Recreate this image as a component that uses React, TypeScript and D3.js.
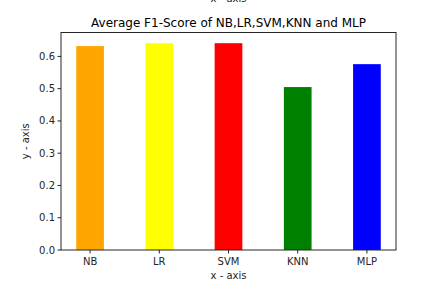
import React from 'react';
import * as d3 from 'd3';

const models = ['NB', 'LR', 'SVM', 'KNN', 'MLP'];
const f1Scores = [0.632, 0.641, 0.641, 0.505, 0.576];
const barColors = ['orange', 'yellow', 'red', 'green', 'blue'];
const yTicks = [0, 0.1, 0.2, 0.3, 0.4, 0.5, 0.6];

const W = 431;
const H = 286;
const margin = { top: 32.5, right: 35, bottom: 36, left: 61 };

const App: React.FC = () => {
  const innerW = W - margin.left - margin.right;
  const innerH = H - margin.top - margin.bottom;

  // matplotlib-like continuous x: bars of width 0.4 at integer positions
  const x = d3.scaleLinear().domain([-0.42, models.length - 1 + 0.42]).range([0, innerW]);
  const y = d3.scaleLinear().domain([0, 0.6741]).range([innerH, 0]);
  const barW = x(0.4) - x(0);

  const font = 'DejaVu Sans, sans-serif';
  const textColor = '#262626';

  return (
    <svg
      width={W}
      height={H}
      style={{ position: 'absolute', left: 0, top: 0, background: '#fff' }}
      fontFamily={font}
    >
      {/* clipped label from a previous plot */}
      <text x={margin.left + innerW / 2} y={2} textAnchor="middle" fontSize={10} fill={textColor}>
        x - axis
      </text>
      <text x={margin.left + innerW / 2} y={27} textAnchor="middle" fontSize={12} fill="#000">
        Average F1-Score of NB,LR,SVM,KNN and MLP
      </text>
      <g transform={`translate(${margin.left},${margin.top})`}>
        {models.map((m, i) => (
          <rect
            key={m}
            x={x(i) - barW / 2}
            y={y(f1Scores[i])}
            width={barW}
            height={innerH - y(f1Scores[i])}
            fill={barColors[i]}
          />
        ))}
        <rect x={0} y={0} width={innerW} height={innerH} fill="none" stroke="#262626" strokeWidth={1} />
        {yTicks.map((t) => (
          <g key={t} transform={`translate(0,${y(t)})`}>
            <line x1={-3.5} x2={0} stroke="#262626" />
            <text x={-6} dy="0.35em" textAnchor="end" fontSize={10} fill={textColor}>
              {t.toFixed(1)}
            </text>
          </g>
        ))}
        {models.map((m, i) => (
          <g key={m} transform={`translate(${x(i)},${innerH})`}>
            <line y1={0} y2={3.5} stroke="#262626" />
            <text y={15} textAnchor="middle" fontSize={10} fill={textColor}>
              {m}
            </text>
          </g>
        ))}
        <text x={innerW / 2} y={innerH + 29} textAnchor="middle" fontSize={10} fill={textColor}>
          x - axis
        </text>
        <text
          transform={`translate(${-32},${innerH / 2}) rotate(-90)`}
          textAnchor="middle"
          fontSize={10}
          fill={textColor}
        >
          y - axis
        </text>
      </g>
    </svg>
  );
};

export default App;
